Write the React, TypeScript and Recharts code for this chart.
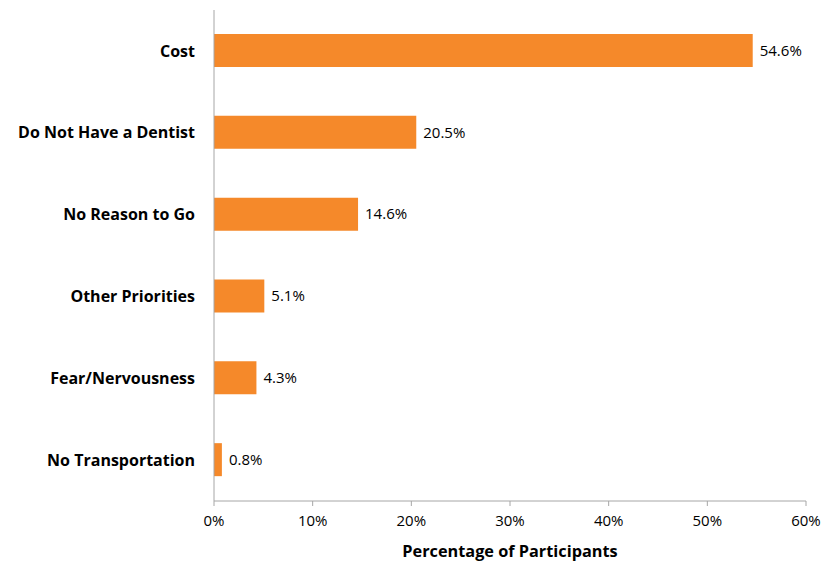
import React from "react";
import { BarChart, Bar, XAxis, YAxis, LabelList } from "recharts";

const reasons = [
  "Cost",
  "Do Not Have a Dentist",
  "No Reason to Go",
  "Other Priorities",
  "Fear/Nervousness",
  "No Transportation",
];
const shares = [54.6, 20.5, 14.6, 5.1, 4.3, 0.8];
const xTicks = [0, 10, 20, 30, 40, 50, 60];

const data = reasons.map((name, i) => ({ name, value: shares[i] }));

const FONT = "'Open Sans', 'Liberation Sans', Arial, sans-serif";
const AXIS = "#a6a6a6";

export default function App() {
  return (
    <div style={{ position: "absolute", left: 0, top: 0, fontFamily: FONT }}>
      <BarChart
        width={833}
        height={561}
        data={data}
        layout="vertical"
        margin={{ top: 10, right: 27, bottom: 0, left: 0 }}
        barCategoryGap={0}
      >
        <XAxis
          type="number"
          domain={[0, 60]}
          ticks={xTicks}
          tickFormatter={(v) => `${v}%`}
          stroke={AXIS}
          tickSize={5}
          tickMargin={9}
          height={60}
          tick={{ fill: "#000", fontSize: 15, fontFamily: FONT }}
          label={{
            value: "Percentage of Participants",
            position: "insideBottom",
            offset: 4,
            fill: "#000",
            fontSize: 16.3,
            fontWeight: "bold",
            fontFamily: FONT,
          }}
        />
        <YAxis
          type="category"
          dataKey="name"
          width={214}
          stroke={AXIS}
          tickLine={false}
          tickSize={0}
          tickMargin={19}
          tick={{ fill: "#000", fontSize: 16, fontWeight: "bold", fontFamily: FONT }}
        />
        <Bar dataKey="value" fill="#f5892a" barSize={33} isAnimationActive={false}>
          <LabelList
            dataKey="value"
            position="right"
            offset={7}
            formatter={(v: any) => `${v}%`}
            style={{ fill: "#000", fontSize: 15, fontFamily: FONT }}
          />
        </Bar>
      </BarChart>
    </div>
  );
}
